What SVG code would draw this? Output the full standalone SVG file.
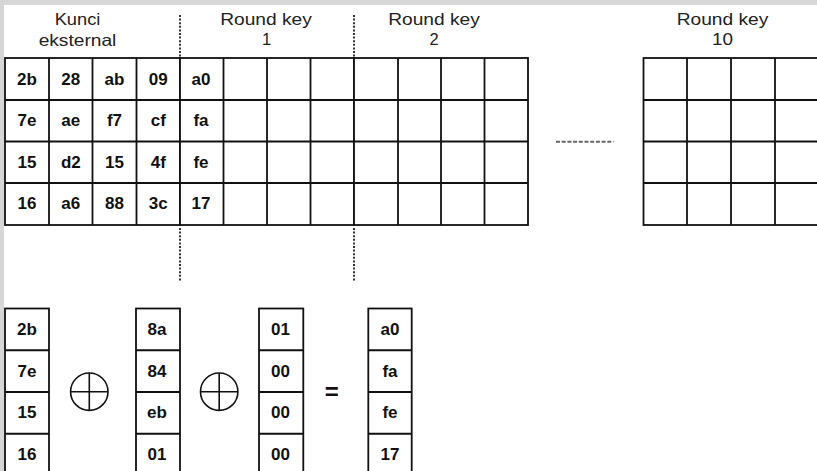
<svg xmlns="http://www.w3.org/2000/svg" width="817" height="471" viewBox="0 0 817 471">
<style>
.bg{fill:#ffffff}
.strip{fill:#d6d6d6}
.box{fill:#ffffff;stroke:#111;stroke-width:1.8}
.ln{fill:none;stroke:#111;stroke-width:1.8}
.lbl{font-family:"Liberation Sans",Arial,sans-serif;font-size:16.5px;fill:#222;text-anchor:middle}
.v{font-family:"Liberation Sans",Arial,sans-serif;font-size:17px;font-weight:bold;fill:#111;text-anchor:middle}
.sep{fill:none;stroke:#333;stroke-width:2;stroke-dasharray:2 1.6}
.dots{fill:none;stroke:#666;stroke-width:2;stroke-dasharray:4 1.7}
.xor{fill:none;stroke:#111;stroke-width:1.6}
</style>
<rect class="bg" x="0" y="0" width="817" height="471"/>
<rect class="strip" x="0" y="0" width="817" height="5"/>
<rect class="strip" x="0" y="0" width="4" height="471"/>

<g id="labels">
<text class="lbl" x="77.5" y="25" textLength="45.7" lengthAdjust="spacingAndGlyphs">Kunci</text>
<text class="lbl" x="77.5" y="45.5" textLength="77.7" lengthAdjust="spacingAndGlyphs">eksternal</text>
<text class="lbl" x="266" y="25" textLength="91.7" lengthAdjust="spacingAndGlyphs">Round key</text>
<text class="lbl" x="266.5" y="45">1</text>
<text class="lbl" x="434" y="25" textLength="91.7" lengthAdjust="spacingAndGlyphs">Round key</text>
<text class="lbl" x="434" y="45">2</text>
<text class="lbl" x="722.5" y="25" textLength="91.7" lengthAdjust="spacingAndGlyphs">Round key</text>
<text class="lbl" x="722.5" y="45" textLength="21" lengthAdjust="spacingAndGlyphs">10</text>
</g>

<g id="kunci-eksternal">
<rect class="box" x="5" y="58" width="175" height="167"/>
<path class="ln" d="M49 58V225M92.5 58V225M136.5 58V225M5 100H180M5 141.5H180M5 183H180"/>
<text class="v" x="27" y="84.5">2b</text><text class="v" x="70.8" y="84.5">28</text><text class="v" x="114.5" y="84.5">ab</text><text class="v" x="158.3" y="84.5">09</text>
<text class="v" x="27" y="126">7e</text><text class="v" x="70.8" y="126">ae</text><text class="v" x="114.5" y="126">f7</text><text class="v" x="158.3" y="126">cf</text>
<text class="v" x="27" y="167.5">15</text><text class="v" x="70.8" y="167.5">d2</text><text class="v" x="114.5" y="167.5">15</text><text class="v" x="158.3" y="167.5">4f</text>
<text class="v" x="27" y="209">16</text><text class="v" x="70.8" y="209">a6</text><text class="v" x="114.5" y="209">88</text><text class="v" x="158.3" y="209">3c</text>
</g>

<g id="round-key-1">
<rect class="box" x="180" y="58" width="174" height="167"/>
<path class="ln" d="M223.5 58V225M267 58V225M310.5 58V225M180 100H354M180 141.5H354M180 183H354"/>
<text class="v" x="201" y="84.5">a0</text>
<text class="v" x="201" y="126">fa</text>
<text class="v" x="201" y="167.5">fe</text>
<text class="v" x="201" y="209">17</text>
</g>

<g id="round-key-2">
<rect class="box" x="354" y="58" width="174" height="167"/>
<path class="ln" d="M398 58V225M441 58V225M484.5 58V225M354 100H528M354 141.5H528M354 183H528"/>
</g>

<g id="round-key-10">
<rect class="box" x="643.5" y="58" width="176" height="167"/>
<path class="ln" d="M687 58V225M731 58V225M775 58V225M643.5 100H820M643.5 141.5H820M643.5 183H820"/>
</g>

<g id="connectors">
<path class="sep" d="M180 15V58M354 15V58M180 228V281M354 228V281"/>
<path class="dots" d="M556 141.7H613.5"/>
</g>

<g id="col-a">
<rect class="box" x="5" y="308.5" width="44" height="167"/>
<path class="ln" d="M5 350.25H49M5 392H49M5 433.75H49"/>
<text class="v" x="27" y="335">2b</text>
<text class="v" x="27" y="376.5">7e</text>
<text class="v" x="27" y="418.3">15</text>
<text class="v" x="27" y="460">16</text>
</g>

<g id="xor-1">
<circle class="xor" cx="89.3" cy="391.7" r="18.7"/>
<path class="xor" d="M70.6 391.7H108M89.3 373V410.4"/>
</g>

<g id="col-b">
<rect class="box" x="136" y="308.5" width="44" height="167"/>
<path class="ln" d="M136 350.25H180M136 392H180M136 433.75H180"/>
<text class="v" x="157" y="335">8a</text>
<text class="v" x="157" y="376.5">84</text>
<text class="v" x="157" y="418.3">eb</text>
<text class="v" x="157" y="460">01</text>
</g>

<g id="xor-2">
<circle class="xor" cx="219.2" cy="391.7" r="18.7"/>
<path class="xor" d="M200.5 391.7H237.9M219.2 373V410.4"/>
</g>

<g id="col-c">
<rect class="box" x="259" y="308.5" width="44.3" height="167"/>
<path class="ln" d="M259 350.25H303.3M259 392H303.3M259 433.75H303.3"/>
<text class="v" x="280.5" y="335">01</text>
<text class="v" x="280.5" y="376.5">00</text>
<text class="v" x="280.5" y="418.3">00</text>
<text class="v" x="280.5" y="460">00</text>
</g>

<g id="equals">
<text class="v" x="331.7" y="400" style="font-size:24px">=</text>
</g>

<g id="col-d">
<rect class="box" x="368.3" y="308.5" width="43.4" height="167"/>
<path class="ln" d="M368.3 350.25H411.7M368.3 392H411.7M368.3 433.75H411.7"/>
<text class="v" x="390" y="335">a0</text>
<text class="v" x="390" y="376.5">fa</text>
<text class="v" x="390" y="418.3">fe</text>
<text class="v" x="390" y="460">17</text>
</g>
</svg>
